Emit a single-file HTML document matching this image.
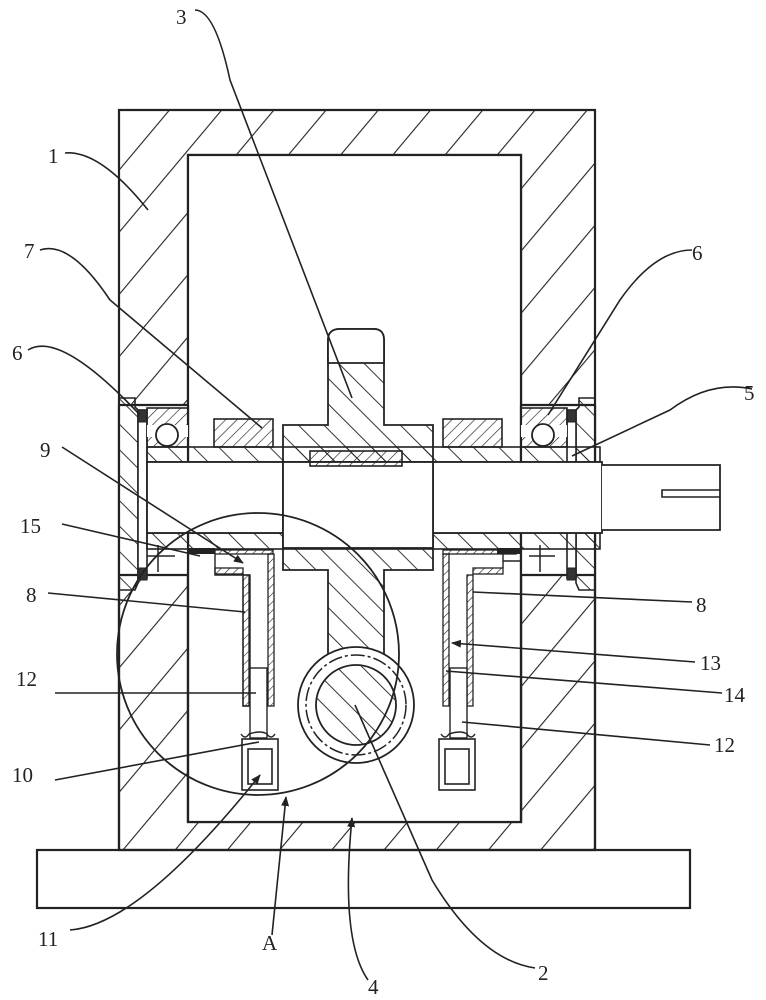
<!DOCTYPE html>
<html><head><meta charset="utf-8"><style>
html,body{margin:0;padding:0;background:#fff}
svg{display:block}
text{font-family:"Liberation Serif",serif;font-size:21px;fill:#222}
</style></head><body>
<svg width="766" height="1000" viewBox="0 0 766 1000" xmlns="http://www.w3.org/2000/svg">
<defs>
<pattern id="hb" patternUnits="userSpaceOnUse" width="40" height="40" patternTransform="rotate(40)">
<line x1="0" y1="0" x2="0" y2="40" stroke="#222" stroke-width="2.2"/></pattern>
<pattern id="hm" patternUnits="userSpaceOnUse" width="18" height="18" patternTransform="rotate(-45)">
<line x1="0" y1="0" x2="0" y2="18" stroke="#222" stroke-width="1.8"/></pattern>
<pattern id="hs" patternUnits="userSpaceOnUse" width="8" height="8" patternTransform="rotate(45)">
<line x1="0" y1="0" x2="0" y2="8" stroke="#222" stroke-width="1.3"/></pattern>
<pattern id="hs2" patternUnits="userSpaceOnUse" width="6" height="6" patternTransform="rotate(45)">
<line x1="0" y1="0" x2="0" y2="6" stroke="#222" stroke-width="1.2"/></pattern>
<marker id="ar" markerWidth="10" markerHeight="8" refX="9" refY="4" orient="auto" markerUnits="userSpaceOnUse">
<path d="M0,0 L10,4 L0,8 z" fill="#222"/></marker>
</defs>
<g stroke="#222" stroke-width="2.2" fill="none">
<!-- base -->
<rect x="37" y="850" width="653" height="58" fill="#fff"/>
<!-- housing -->
<path d="M119,110 H595 V850 H119 Z M188,155 V822 H521 V155 Z" fill="url(#hb)" fill-rule="evenodd"/>
<rect x="188" y="155" width="333" height="667" fill="#fff"/>
<rect x="119" y="405" width="69" height="170" fill="#fff" stroke="none"/>
<rect x="521" y="405" width="74" height="170" fill="#fff" stroke="none"/>
<line x1="119" y1="405" x2="188" y2="405"/><line x1="119" y1="575" x2="188" y2="575"/>
<line x1="521" y1="405" x2="595" y2="405"/><line x1="521" y1="575" x2="595" y2="575"/>
<line x1="119" y1="405" x2="119" y2="850"/><line x1="595" y1="405" x2="595" y2="850"/>
<line x1="188" y1="405" x2="188" y2="822"/><line x1="521" y1="405" x2="521" y2="822"/>
<!-- left flange plate -->
<path d="M119,398 H135 V407 L138,410 V583 L135,590 H119 Z" fill="url(#hm)" stroke-width="1.6"/>
<rect x="138" y="410" width="9" height="168" fill="#fff" stroke-width="1.6"/>
<rect x="138" y="410" width="9" height="12" fill="#333" stroke-width="1"/>
<rect x="138" y="568" width="9" height="12" fill="#333" stroke-width="1"/>
<!-- right flange plate -->
<path d="M595,398 H579 V407 L576,410 V583 L579,590 H595 Z" fill="url(#hm)" stroke-width="1.6"/>
<rect x="567" y="410" width="9" height="168" fill="#fff" stroke-width="1.6"/>
<rect x="567" y="410" width="9" height="12" fill="#333" stroke-width="1"/>
<rect x="567" y="568" width="9" height="12" fill="#333" stroke-width="1"/>
<!-- bearings -->
<rect x="147" y="408" width="41" height="39" fill="url(#hs)" stroke-width="1.6"/>
<rect x="147" y="425" width="41" height="12" fill="#fff" stroke="none"/>
<circle cx="167" cy="435" r="11" fill="#fff" stroke-width="1.8"/>
<rect x="521" y="408" width="46" height="39" fill="url(#hs)" stroke-width="1.6"/>
<rect x="521" y="425" width="46" height="12" fill="#fff" stroke="none"/>
<circle cx="543" cy="435" r="11" fill="#fff" stroke-width="1.8"/>
<!-- blocks 7 -->
<rect x="214" y="419" width="59" height="28" fill="url(#hs)" stroke-width="1.6"/>
<rect x="443" y="419" width="59" height="28" fill="url(#hs)" stroke-width="1.6"/>
<!-- sleeves -->
<rect x="147" y="447" width="453" height="15" fill="url(#hm)" stroke-width="1.6"/>
<rect x="147" y="533" width="453" height="16" fill="url(#hm)" stroke-width="1.6"/>
<!-- shaft -->
<rect x="147" y="462" width="455" height="71" fill="#fff" stroke-width="1.8"/>
<path d="M602,465 H720 V530 H602" fill="#fff" stroke-width="1.8"/>
<path d="M720,490 H662 V497 H720" stroke-width="1.6"/>
<!-- hub gear 3 -->
<path d="M283,425 H328 V340 Q328,329 340,329 H374 Q384,329 384,340 V425 H433 V570 H384 V655 Q384,663 370,663 H342 Q328,663 328,655 V570 H283 Z" fill="url(#hm)" stroke-width="1.8"/>
<rect x="328" y="329" width="56" height="34" fill="#fff" stroke="none"/>
<path d="M328,363 V340 Q328,329 340,329 H374 Q384,329 384,340 V363 H328" stroke-width="1.8"/>
<rect x="283" y="462" width="150" height="86" fill="#fff" stroke-width="1.8"/>
<rect x="310" y="451" width="92" height="15" fill="url(#hs)" stroke-width="1.6"/>
<!-- brush holders left -->
<rect x="215" y="550" width="58" height="4" fill="url(#hs2)" stroke-width="1.3"/>
<path d="M215,554 V575 H243 V706 H250 V575 H215" stroke-width="1.4"/>
<rect x="243" y="575" width="6" height="131" fill="url(#hs2)" stroke-width="1.3"/>
<rect x="268" y="554" width="6" height="152" fill="url(#hs2)" stroke-width="1.3"/>
<rect x="215" y="568" width="28" height="6" fill="url(#hs2)" stroke-width="1.3"/>
<rect x="188" y="548" width="27" height="6" fill="#222" stroke="none"/>
<rect x="250" y="668" width="17" height="70" fill="#fff" stroke-width="1.4"/>
<path d="M241,734 q4,6 8,0 q12,-4 18,0 q4,6 8,0" stroke-width="1.4"/>
<rect x="242" y="739" width="36" height="51" fill="#fff" stroke-width="1.6"/>
<rect x="248" y="749" width="24" height="35" stroke-width="1.6"/>
<!-- brush holders right -->
<rect x="443" y="550" width="73" height="4" fill="url(#hs2)" stroke-width="1.3"/>
<rect x="497" y="548" width="24" height="6" fill="#222" stroke="none"/>
<rect x="443" y="554" width="6" height="152" fill="url(#hs2)" stroke-width="1.3"/>
<rect x="467" y="575" width="6" height="131" fill="url(#hs2)" stroke-width="1.3"/>
<rect x="473" y="568" width="30" height="6" fill="url(#hs2)" stroke-width="1.3"/>
<path d="M503,554 V568 M503,561 H521" stroke-width="1.4"/>
<rect x="450" y="668" width="17" height="70" fill="#fff" stroke-width="1.4"/>
<path d="M441,734 q4,6 8,0 q12,-4 18,0 q4,6 8,0" stroke-width="1.4"/>
<rect x="439" y="739" width="36" height="51" fill="#fff" stroke-width="1.6"/>
<rect x="445" y="749" width="24" height="35" stroke-width="1.6"/>
<!-- plus marks -->
<path d="M158,545 V572 M147,556 H175 M540,545 V572 M529,556 H555" stroke-width="1.5"/>
<!-- ring 2 -->
<circle cx="356" cy="705" r="58" fill="#fff" stroke-width="1.8"/>
<circle cx="356" cy="705" r="50" stroke-dasharray="14,3,3,3" stroke-width="1.5"/>
<circle cx="356" cy="705" r="40" fill="url(#hm)" stroke-width="1.8"/>
<!-- big circle A -->
<circle cx="258" cy="654" r="141" stroke-width="1.8"/>
</g>
<g stroke="#222" stroke-width="1.6" fill="none">
<path d="M195,10 Q215,10 230,80 L352,398"/>
<path d="M65,153 Q100,150 148,210"/>
<path d="M40,250 Q70,240 110,300 L262,428"/>
<path d="M28,350 Q60,330 140,415"/>
<path d="M692,250 Q655,250 620,300 L548,415"/>
<path d="M752,389 Q710,380 670,410 L572,456"/>
<path d="M62,447 L243,563" marker-end="url(#ar)"/>
<path d="M62,524 L200,556"/>
<path d="M48,593 L245,612"/>
<path d="M692,602 L473,592"/>
<path d="M695,662 L452,643" marker-end="url(#ar)"/>
<path d="M722,693 L446,671"/>
<path d="M55,693 L256,693"/>
<path d="M710,745 L462,722"/>
<path d="M55,780 L259,742"/>
<path d="M70,930 Q140,925 260,775" marker-end="url(#ar)"/>
<path d="M272,935 L286,797" marker-end="url(#ar)"/>
<path d="M368,980 Q340,940 352,818" marker-end="url(#ar)"/>
<path d="M535,968 Q480,960 432,880 L355,705"/>
</g>
<g>
<text x="176" y="24">3</text>
<text x="48" y="163">1</text>
<text x="24" y="258">7</text>
<text x="12" y="360">6</text>
<text x="692" y="260">6</text>
<text x="744" y="400">5</text>
<text x="40" y="457">9</text>
<text x="20" y="533">15</text>
<text x="26" y="602">8</text>
<text x="696" y="612">8</text>
<text x="700" y="670">13</text>
<text x="724" y="702">14</text>
<text x="16" y="686">12</text>
<text x="714" y="752">12</text>
<text x="12" y="782">10</text>
<text x="38" y="946">11</text>
<text x="262" y="950">A</text>
<text x="368" y="994">4</text>
<text x="538" y="980">2</text>
</g>
</svg>
</body></html>
